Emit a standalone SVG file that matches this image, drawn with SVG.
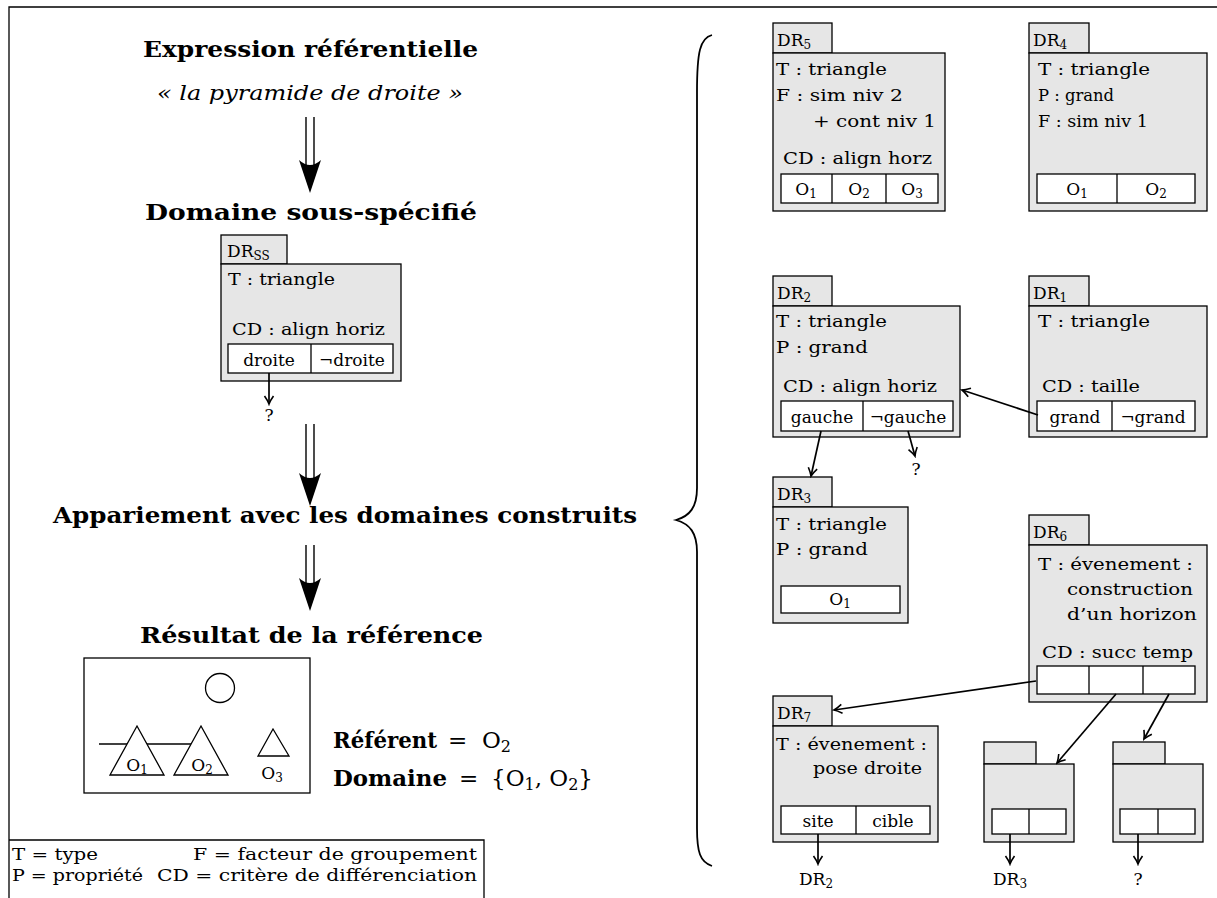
<svg xmlns="http://www.w3.org/2000/svg" width="1217" height="898" viewBox="0 0 1217 898">
<style>
text{font-family:"DejaVu Serif","Liberation Serif",serif;font-size:17px;fill:#000}
.h{font-weight:bold;font-size:23px}
.it{font-style:italic;font-size:21px}
.big{font-weight:bold;font-size:23px}
.rg{font-size:23px}
.lg{font-size:16px}
.c{text-anchor:middle}
.sub{font-size:12px}
.box{fill:#e6e6e6;stroke:#000;stroke-width:1.3}
.cell{fill:#fff;stroke:#000;stroke-width:1.3}
.ln{stroke:#000;stroke-width:1.3;fill:none}
.cn{stroke:#000;stroke-width:1.7;fill:none;marker-end:url(#ah)}
.dbl{stroke:#000;stroke-width:1.4;fill:none}
</style>
<defs>
<marker id="ah" markerUnits="userSpaceOnUse" viewBox="-10 -6 12 12" refX="0" refY="0" markerWidth="12" markerHeight="12" orient="auto">
<path d="M-8,-4.5 Q-3,-1 0,0 Q-3,1 -8,4.5" fill="none" stroke="#000" stroke-width="1.6"/>
</marker>
</defs>
<rect width="1217" height="898" fill="#fff"/>
<g id="frame">
<path class="ln" d="M9,898 L9,7 L1217,7"/>
</g>
<g id="legend">
<path class="ln" d="M9,840 L484,840 L484,898"/>
<text class="lg" x="12" y="860" textLength="86" lengthAdjust="spacingAndGlyphs">T = type</text>
<text class="lg" x="193" y="860" textLength="284" lengthAdjust="spacingAndGlyphs">F = facteur de groupement</text>
<text class="lg" x="12" y="881" textLength="131" lengthAdjust="spacingAndGlyphs">P = propriété</text>
<text class="lg" x="157" y="881" textLength="320" lengthAdjust="spacingAndGlyphs">CD = critère de différenciation</text>
</g>
<g id="titles">
<text class="h" x="143" y="57" textLength="335" lengthAdjust="spacingAndGlyphs">Expression référentielle</text>
<text class="it" x="157" y="100" textLength="306" lengthAdjust="spacingAndGlyphs">« la pyramide de droite »</text>
<text class="h" x="145" y="220" textLength="332" lengthAdjust="spacingAndGlyphs">Domaine sous-spécifié</text>
<text class="h" x="53" y="523" textLength="584" lengthAdjust="spacingAndGlyphs">Appariement avec les domaines construits</text>
<text class="h" x="140" y="643" textLength="343" lengthAdjust="spacingAndGlyphs">Résultat de la référence</text>
</g>
<g id="double-arrows">
<path class="dbl" d="M306,117 V172 M314,117 V172"/>
<path d="M310,193 L299,160 Q310,170 321,160 Z"/>
<path class="dbl" d="M306,424 V484 M314,424 V484"/>
<path d="M310,506 L299,473 Q310,483 321,473 Z"/>
<path class="dbl" d="M306,545 V590 M314,545 V590"/>
<path d="M310,611 L299,578 Q310,588 321,578 Z"/>
</g>
<g id="brace">
<path d="M712,35 C700,38 697,52 697,92 L697,488 C697,507 690,516 676,520 C690,524 697,533 697,552 L697,828 C697,852 700,862 712,866" fill="none" stroke="#000" stroke-width="1.8"/>
</g>
<g id="DRss">
<rect class="box" x="221" y="235" width="66" height="29"/>
<rect class="box" x="221" y="264" width="180" height="117"/>
<text x="227" y="257">DR<tspan class="sub" dy="3">SS</tspan></text>
<text x="228" y="285" textLength="107" lengthAdjust="spacingAndGlyphs">T : triangle</text>
<text x="232" y="335" textLength="153" lengthAdjust="spacingAndGlyphs">CD : align horiz</text>
<rect class="cell" x="228" y="344" width="165" height="29"/>
<line class="ln" x1="311" y1="344" x2="311" y2="373"/>
<text class="c" x="269" y="366">droite</text>
<text class="c" x="352" y="366">¬droite</text>
</g>
<g id="result">
<rect class="ln" x="84" y="658" width="226" height="135"/>
<circle cx="220" cy="688" r="14.5" class="ln"/>
<line class="ln" x1="99" y1="744" x2="192" y2="744"/>
<path class="ln" d="M137,726 L164,775 L110,775 Z" style="fill:#fff"/>
<path class="ln" d="M201,726 L228,775 L174,775 Z" style="fill:#fff"/>
<path class="ln" d="M273,729 L289,756 L258,756 Z"/>
<text class="c" x="137" y="771">O<tspan class="sub" dy="3">1</tspan></text>
<text class="c" x="202" y="771">O<tspan class="sub" dy="3">2</tspan></text>
<text class="c" x="272" y="779">O<tspan class="sub" dy="3">3</tspan></text>
<text class="big" x="333" y="748" textLength="104" lengthAdjust="spacingAndGlyphs">Référent</text>
<text class="rg" x="448" y="748">=</text>
<text class="rg" x="482" y="748">O<tspan font-size="16" dy="4">2</tspan></text>
<text class="big" x="333" y="786" textLength="114" lengthAdjust="spacingAndGlyphs">Domaine</text>
<text class="rg" x="459" y="786">=</text>
<text class="rg" x="491" y="786">{O<tspan font-size="16" dy="4">1</tspan><tspan dy="-4">, O</tspan><tspan font-size="16" dy="4">2</tspan><tspan dy="-4">}</tspan></text>
</g>
<g id="DR5">
<rect class="box" x="773" y="23" width="59" height="30"/>
<rect class="box" x="773" y="53" width="172" height="158"/>
<text x="777" y="46">DR<tspan class="sub" dy="3">5</tspan></text>
<text x="776" y="75" textLength="111" lengthAdjust="spacingAndGlyphs">T : triangle</text>
<text x="776" y="101" textLength="127" lengthAdjust="spacingAndGlyphs">F : sim niv 2</text>
<text x="813" y="127" textLength="123" lengthAdjust="spacingAndGlyphs">+ cont niv 1</text>
<text x="783" y="164" textLength="149" lengthAdjust="spacingAndGlyphs">CD : align horz</text>
<rect class="cell" x="781" y="174" width="157" height="29"/>
<path class="ln" d="M832,174 V203 M886,174 V203"/>
<text class="c" x="806" y="195">O<tspan class="sub" dy="3">1</tspan></text>
<text class="c" x="859" y="195">O<tspan class="sub" dy="3">2</tspan></text>
<text class="c" x="912" y="195">O<tspan class="sub" dy="3">3</tspan></text>
</g>
<g id="DR4">
<rect class="box" x="1029" y="23" width="60" height="30"/>
<rect class="box" x="1029" y="53" width="178" height="158"/>
<text x="1033" y="46">DR<tspan class="sub" dy="3">4</tspan></text>
<text x="1038" y="75" textLength="112" lengthAdjust="spacingAndGlyphs">T : triangle</text>
<text x="1038" y="101" textLength="76" lengthAdjust="spacingAndGlyphs">P : grand</text>
<text x="1038" y="127" textLength="110" lengthAdjust="spacingAndGlyphs">F : sim niv 1</text>
<rect class="cell" x="1037" y="174" width="158" height="29"/>
<path class="ln" d="M1117,174 V203"/>
<text class="c" x="1077" y="195">O<tspan class="sub" dy="3">1</tspan></text>
<text class="c" x="1156" y="195">O<tspan class="sub" dy="3">2</tspan></text>
</g>
<g id="DR2">
<rect class="box" x="773" y="276" width="59" height="30"/>
<rect class="box" x="773" y="306" width="187" height="131"/>
<text x="777" y="299">DR<tspan class="sub" dy="3">2</tspan></text>
<text x="776" y="327" textLength="111" lengthAdjust="spacingAndGlyphs">T : triangle</text>
<text x="776" y="353" textLength="92" lengthAdjust="spacingAndGlyphs">P : grand</text>
<text x="783" y="392" textLength="154" lengthAdjust="spacingAndGlyphs">CD : align horiz</text>
<rect class="cell" x="781" y="401" width="172" height="30"/>
<path class="ln" d="M863,401 V431"/>
<text class="c" x="822" y="423">gauche</text>
<text class="c" x="908" y="423">¬gauche</text>
</g>
<g id="DR1">
<rect class="box" x="1029" y="276" width="60" height="30"/>
<rect class="box" x="1029" y="306" width="178" height="131"/>
<text x="1033" y="299">DR<tspan class="sub" dy="3">1</tspan></text>
<text x="1038" y="327" textLength="112" lengthAdjust="spacingAndGlyphs">T : triangle</text>
<text x="1042" y="392" textLength="98" lengthAdjust="spacingAndGlyphs">CD : taille</text>
<rect class="cell" x="1037" y="401" width="158" height="30"/>
<path class="ln" d="M1112,401 V431"/>
<text class="c" x="1075" y="423">grand</text>
<text class="c" x="1153" y="423">¬grand</text>
</g>
<g id="DR3">
<rect class="box" x="773" y="477" width="59" height="30"/>
<rect class="box" x="773" y="507" width="135" height="116"/>
<text x="777" y="500">DR<tspan class="sub" dy="3">3</tspan></text>
<text x="776" y="530" textLength="111" lengthAdjust="spacingAndGlyphs">T : triangle</text>
<text x="776" y="555" textLength="92" lengthAdjust="spacingAndGlyphs">P : grand</text>
<rect class="cell" x="781" y="586" width="119" height="27"/>
<text class="c" x="840" y="605">O<tspan class="sub" dy="3">1</tspan></text>
</g>
<g id="DR6">
<rect class="box" x="1029" y="515" width="60" height="30"/>
<rect class="box" x="1029" y="545" width="178" height="157"/>
<text x="1033" y="538">DR<tspan class="sub" dy="3">6</tspan></text>
<text x="1038" y="570" textLength="155" lengthAdjust="spacingAndGlyphs">T : évenement :</text>
<text x="1067" y="595" textLength="126" lengthAdjust="spacingAndGlyphs">construction</text>
<text x="1067" y="620" textLength="130" lengthAdjust="spacingAndGlyphs">d’un horizon</text>
<text x="1042" y="658" textLength="151" lengthAdjust="spacingAndGlyphs">CD : succ temp</text>
<rect class="cell" x="1037" y="666" width="158" height="28"/>
<path class="ln" d="M1089,666 V694 M1143,666 V694"/>
</g>
<g id="DR7">
<rect class="box" x="773" y="696" width="59" height="30"/>
<rect class="box" x="773" y="726" width="165" height="116"/>
<text x="777" y="719">DR<tspan class="sub" dy="3">7</tspan></text>
<text x="776" y="750" textLength="151" lengthAdjust="spacingAndGlyphs">T : évenement :</text>
<text x="813" y="774" textLength="109" lengthAdjust="spacingAndGlyphs">pose droite</text>
<rect class="cell" x="781" y="806" width="149" height="28"/>
<path class="ln" d="M856,806 V834"/>
<text class="c" x="818" y="827">site</text>
<text class="c" x="893" y="827">cible</text>
</g>
<g id="boxA">
<rect class="box" x="984" y="742" width="52" height="22"/>
<rect class="box" x="984" y="764" width="90" height="78"/>
<rect class="cell" x="992" y="809" width="74" height="25"/>
<path class="ln" d="M1029,809 V834"/>
</g>
<g id="boxB">
<rect class="box" x="1113" y="742" width="52" height="22"/>
<rect class="box" x="1113" y="764" width="90" height="78"/>
<rect class="cell" x="1120" y="809" width="75" height="25"/>
<path class="ln" d="M1158,809 V834"/>
</g>
<g id="labels">
<text class="c" x="269" y="421">?</text>
<text class="c" x="916" y="475">?</text>
<text class="c" x="816" y="885">DR<tspan class="sub" dy="3">2</tspan></text>
<text class="c" x="1010" y="885">DR<tspan class="sub" dy="3">3</tspan></text>
<text class="c" x="1138" y="885">?</text>
</g>
<g id="connectors">
<line class="cn" x1="269" y1="373" x2="269" y2="404"/>
<line class="cn" x1="1038" y1="415" x2="962" y2="390"/>
<line class="cn" x1="821" y1="431" x2="811" y2="476"/>
<line class="cn" x1="908" y1="431" x2="915" y2="456"/>
<line class="cn" x1="1036" y1="681" x2="834" y2="710"/>
<line class="cn" x1="1116" y1="694" x2="1057" y2="763"/>
<line class="cn" x1="1169" y1="694" x2="1144" y2="739"/>
<line class="cn" x1="818" y1="834" x2="818" y2="864"/>
<line class="cn" x1="1010" y1="834" x2="1010" y2="864"/>
<line class="cn" x1="1138" y1="834" x2="1138" y2="864"/>
</g>
</svg>
